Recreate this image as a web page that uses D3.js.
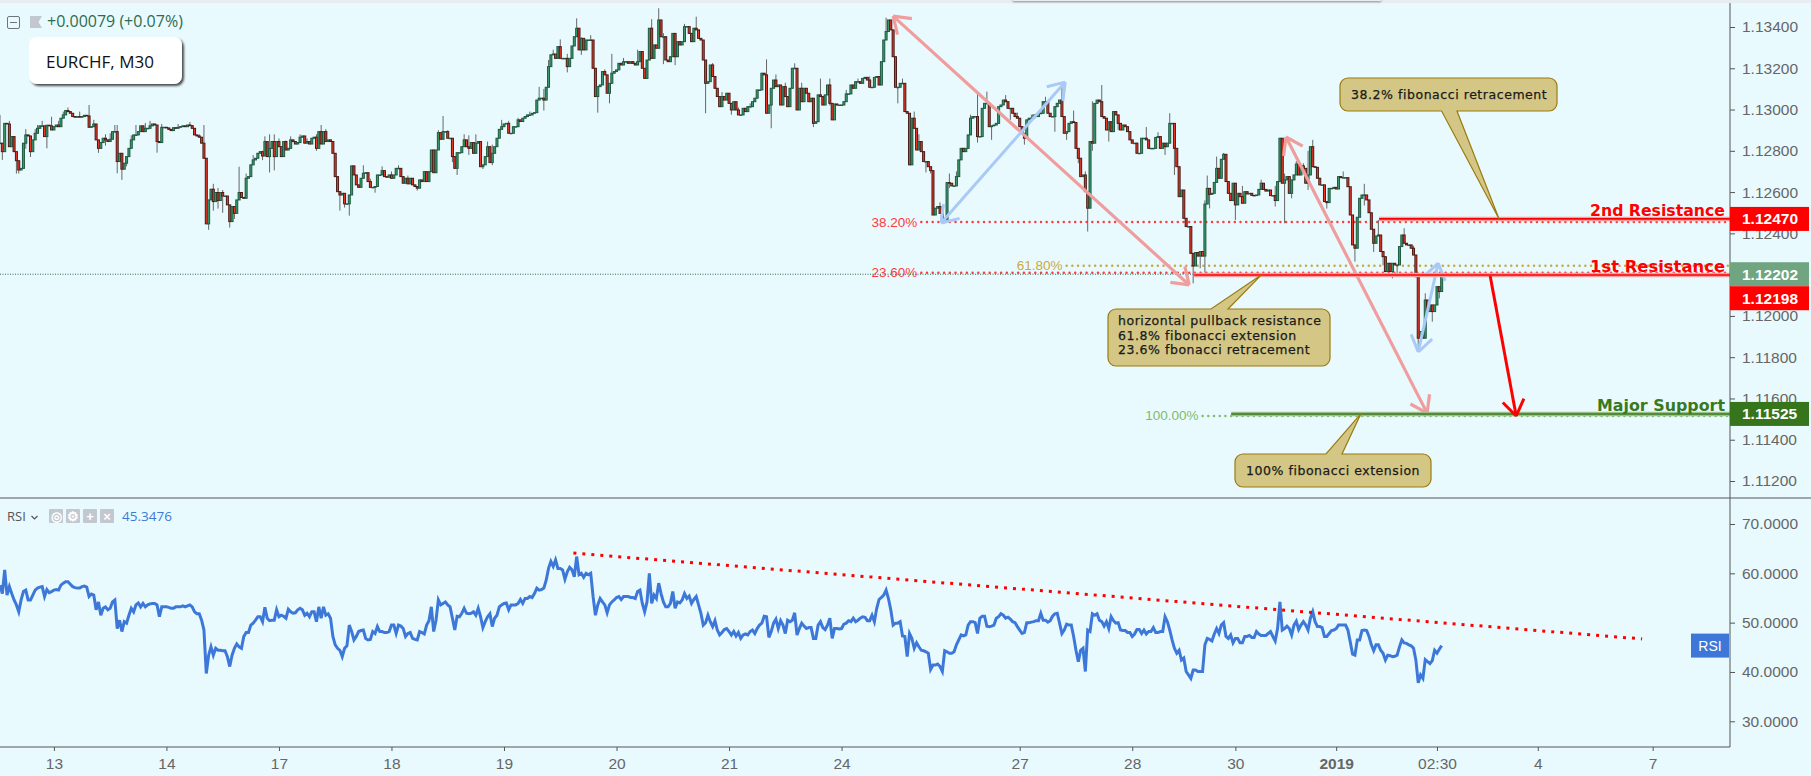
<!DOCTYPE html>
<html>
<head>
<meta charset="utf-8">
<script src="https://cdn.jsdelivr.net/npm/d3@7"></script>
<style>
  html, body { margin: 0; padding: 0; background: #e9faff; overflow: hidden; }
  svg { display: block; }
  text { font-family: "Liberation Sans", Arial, sans-serif; }
  .axis text { font-size: 15.5px; fill: #666; }
  .axis path, .axis line { stroke: #555; }
  .note text { font-family: "DejaVu Sans", sans-serif; font-size: 12.5px; letter-spacing: 0.55px; fill: #1a1a1a; stroke: #1a1a1a; stroke-width: 0.25px; }
</style>
</head>
<body>
<svg id="chart" width="1811" height="776"></svg>
<script>
// prices below are in points above 1.10000, so 2470 means 1.12470
const closePts = [
  2837,2796,2933,2930,2820,2869,2796,2752,2707,2715,
  2837,2877,2872,2796,2853,2885,2909,2921,2921,2869,
  2924,2921,2901,2917,2925,2917,2958,2974,2995,2990,
  2982,2966,2963,2966,2963,2966,2972,2969,2914,2917,
  2930,2853,2812,2840,2861,2853,2845,2856,2893,2893,
  2748,2788,2711,2740,2772,2812,2853,2877,2877,2893,
  2921,2893,2909,2909,2921,2930,2925,2845,2840,2914,
  2914,2911,2904,2898,2912,2909,2914,2917,2921,2917,
  2925,2922,2909,2877,2872,2866,2837,2764,2446,2562,
  2614,2554,2598,2559,2598,2581,2581,2538,2457,2530,
  2497,2562,2598,2574,2570,2667,2675,2732,2756,2764,
  2788,2796,2775,2845,2772,2812,2845,2772,2845,2820,
  2772,2845,2804,2812,2853,2845,2833,2840,2866,2872,
  2837,2845,2833,2861,2866,2812,2893,2833,2893,2845,
  2853,2845,2788,2675,2602,2586,2594,2543,2543,2586,
  2727,2683,2635,2623,2667,2691,2694,2651,2623,2623,
  2627,2683,2683,2704,2675,2672,2683,2667,2683,2715,
  2715,2675,2643,2667,2640,2667,2635,2627,2619,2659,
  2651,2699,2651,2699,2804,2694,2804,2888,2856,2893,
  2893,2861,2861,2772,2715,2791,2791,2820,2853,2820,
  2812,2840,2788,2837,2845,2723,2732,2772,2820,2743,
  2788,2820,2861,2904,2917,2930,2933,2885,2885,2917,
  2917,2950,2942,2958,2966,2974,2974,2982,2985,3046,
  3055,3055,3046,3108,3208,3265,3269,3248,3305,3248,
  3248,3248,3208,3248,3308,3353,3394,3289,3345,3289,
  3337,3337,3337,3200,3063,3111,
  3119,3184,3168,3079,3127,3176,3184,3192,3224,3216,
  3232,3232,3224,3232,3224,3216,3232,3281,3200,3151,
  3240,3394,3248,3313,3297,3434,3353,3353,3240,3232,
  3256,3369,3256,3329,3313,3329,3402,3402,3369,3329,
  3394,3386,3345,3337,3240,3127,3135,3216,3160,3103,
  3063,3014,3063,3046,3079,3030,2998,3038,2998,2974,
  2974,3006,2990,3014,3014,3038,3055,3095,3095,3176,
  3168,2982,3022,3103,3143,3111,3119,3022,3111,3063,
  3014,3103,3200,3200,2998,3103,3038,3103,3079,3038,
  3055,2933,2941,3071,3063,3022,3071,3119,3030,2950,
  3027,3022,3022,3022,3038,3076,3076,3119,3103,3135,
  3135,3127,3151,3156,3143,3108,3108,3156,3160,3119,
  3232,3337,3378,3434,3386,3256,3108,3108,3127,3127,
  2990,2982,2732,2958,2909,2804,2845,2796,2748,2748,
  2723,2704,2489,2522,2530,2497,2457,2457,2646,2643,
  2630,2630,2675,2756,2812,2796,2812,2877,2958,2966,
  2966,2869,2869,3006,3030,3030,2917,2921,2925,2933,
  3014,3022,3046,3038,3006,3006,2982,2966,2958,2917,
  2885,2861,2950,2958,2958,2974,2966,2982,2982,3038,
  3038,2982,2966,2966,3014,3030,3046,2966,2885,2893,
  2933,2941,2937,2812,2764,2675,2683,2602,2522,2845,
  2837,3030,3046,3038,2966,2958,2901,2941,2893,2990,
  2974,2933,2901,2925,2917,2893,2853,2837,2837,2788,
  2788,2861,2861,2853,2812,2812,2812,2865,2869,2812,
  2837,2820,2837,2933,2933,2812,2723,
  2578,2610,2473,2433,2433,2303,2242,2307,2290,2312,
  2290,2542,2618,2589,2594,2647,2715,2667,2759,2783,
  2651,2594,2559,2643,2538,2594,2578,2546,2602,2591,
  2594,2584,2583,2586,2613,2643,2613,2605,2610,2583,
  2583,2559,2651,2861,2643,2659,2675,2594,2659,2683,
  2736,2683,2727,2715,2643,2683,2820,2723,2720,2667,
  2635,2635,2554,2549,2618,2618,2623,2615,2675,2670,
  2670,2670,2626,2489,2344,2328,2478,2570,2586,2586,
  2562,2500,2420,2352,2387,2392,2312,2287,2215,2255,
  2215,2255,2247,2247,2336,2392,2352,2344,2344,2328,
  2295,2190,1892,1924,1892,2077,2021,2053,2021,2053,
  2142,2118,2202
];

// [bar, high, low] for the bars whose wick is visible, 0 means no wick on that side
const wicks = [
  [0,2974,0],[1,0,2756],[4,2945,0],[7,0,2690],[8,0,2690],[11,2905,2810],[13,0,2770],[15,2905,0],[16,2925,0],[18,2945,0],
  [20,0,2812],[22,2965,0],[25,2945,0],[27,2990,0],[29,3010,0],[34,2990,0],[38,3022,0],[40,2950,0],[42,0,2790],[45,2880,2825],
  [47,2885,0],[49,2925,0],[50,2925,2691],[52,0,2659],[54,0,2725],[56,2875,0],[58,2925,0],[62,2935,0],[64,2945,0],[67,0,2791],
  [69,2930,0],[76,2930,0],[81,2940,0],[85,2880,0],[87,2925,0],[89,0,2417],[91,2640,2510],[93,2620,2520],[95,2610,2500],[98,0,2428],
  [100,0,2470],[102,2723,0],[105,2690,0],[108,2780,0],[112,2800,2755],[113,2870,0],[115,2880,2695],[117,2880,2705],[119,2860,0],[122,2850,0],
  [124,2870,0],[128,2880,0],[131,2860,0],[135,2880,2800],[137,2925,0],[139,2905,0],[145,0,2510],[147,0,2525],[149,0,2486],[151,2725,0],
  [155,2730,0],[158,2665,0],[160,0,2597],[163,2725,0],[167,2700,0],[170,2730,0],[174,2680,0],[178,0,2607],[182,2690,0],[185,2730,0],
  [187,2900,0],[189,2969,0],[191,2900,0],[193,0,2745],[195,0,2683],[198,2880,0],[200,2875,2780],[203,2880,2785],[206,0,2712],[208,2845,0],
  [210,2830,2730],[214,2950,0],[217,2945,0],[221,2960,0],[226,2990,0],[230,3110,0],[232,3100,2995],[234,3240,0],[236,3290,0],[239,3340,0],
  [242,3270,3180],[246,3442,0],[248,3350,3265],[252,3360,0],[255,3100,2985],[258,3195,0],[260,0,3030],[261,3270,0],[266,3250,0],[272,3290,0],
  [278,3438,0],[281,3491,0],[283,3370,3220],[288,3290,3215],[292,3415,0],[297,3450,0],[301,0,2982],[304,3225,0],[308,3085,0],[312,0,2975],
  [315,3010,0],[320,3030,0],[327,3243,0],[329,0,2909],[331,3170,0],[335,3130,0],[339,3224,0],[342,3130,0],[345,3060,0],[347,0,2915],
  [350,3150,0],[354,3150,3020],[356,0,3000],[361,3095,0],[366,3150,0],[371,3160,0],[378,3445,0],[383,0,3030],[385,3150,0],[390,2990,0],
  [392,2880,0],[395,0,2695],[397,0,2690],[401,2550,0],[405,2690,2620],[408,2700,0],[414,2975,0],[417,3074,2840],[421,3087,0],[423,0,2853],
  [429,3070,0],[431,0,2950],[434,2985,0],[437,0,2830],[440,2975,0],[444,2995,0],[446,3062,0],[450,0,2892],[453,3119,0],[455,0,2853],
  [458,2995,0],[460,0,2740],[463,2700,0],[464,0,2409],[466,3040,2800],[470,3119,0],[473,0,2845],[477,0,2900],[481,2915,0],[485,2840,0],
  [489,2915,0],[494,2890,0],[497,0,2780],[499,2982,0],[501,0,2683],[505,2610,0],[509,0,2158],[512,0,2231],[514,2560,2210],[515,2680,0],
  [516,0,2521],[519,2772,0],[522,2790,0],[527,0,2465],[530,2630,0],[538,2660,0],[544,2630,2530],[546,2861,0],[548,2690,2449],[551,0,2570],
  [553,2750,0],[556,2740,0],[558,2800,2610],[560,2853,0],[563,2670,0],[566,0,2520],[573,2700,0],[578,0,2263],[582,2640,2535],[586,0,2310],
  [588,2465,0],[590,0,2245],[594,0,2182],[596,0,2190],[599,2425,0],[603,2340,0],[605,0,1827],[608,2110,0],[611,0,1972],[614,0,2085]
];

const rsiValues = [
  57.6,55.9,60.7,55.6,57.3,55.9,54.6,53.6,52.2,54.6,
  56.3,56.6,54.6,54.6,55.6,56.6,57.0,57.2,57.3,55.3,
  56.7,56.1,56.3,56.6,56.7,56.6,57.6,58.0,58.3,58.3,
  57.8,57.3,57.1,57.0,57.0,57.3,57.4,57.2,55.3,55.8,
  55.6,52.6,54.2,51.5,52.9,53.2,52.6,52.9,54.2,54.6,
  48.8,50.5,48.2,50.2,49.9,51.5,52.9,52.2,53.6,54.0,
  53.2,53.9,53.2,53.6,53.8,53.9,53.9,53.6,51.2,53.2,
  53.2,53.2,53.1,52.9,52.9,53.2,53.2,53.2,53.4,53.2,
  53.4,53.6,53.2,52.2,51.8,51.8,50.5,48.5,39.7,43.4,
  45.1,43.4,44.8,44.4,44.4,44.3,44.3,43.1,41.1,43.4,
  44.8,45.7,45.1,44.8,47.2,48.0,48.0,49.5,49.9,50.5,
  51.2,51.2,50.2,53.1,50.9,50.4,50.5,50.5,52.6,51.2,
  51.5,51.3,50.9,52.7,52.2,51.9,52.0,52.6,52.9,52.6,
  51.5,51.9,51.2,52.2,52.2,50.2,53.2,50.9,53.2,51.5,
  51.8,50.9,47.2,45.5,44.8,44.4,43.1,44.8,45.3,49.5,
  48.2,46.5,47.2,48.2,48.4,48.5,46.8,46.5,46.6,48.2,
  47.8,49.2,48.2,48.2,48.0,48.0,48.2,49.5,49.5,47.8,
  49.5,49.3,48.8,47.2,47.8,48.0,46.8,46.6,46.5,48.2,
  48.0,47.7,49.5,50.4,53.2,48.2,50.5,54.6,53.6,53.9,
  54.2,53.6,53.2,50.9,48.5,51.3,51.2,51.9,52.9,51.9,
  51.8,51.9,52.2,51.5,52.9,51.2,49.0,50.2,51.2,51.8,
  49.2,50.9,51.5,53.2,53.6,53.9,54.0,52.6,53.6,53.6,
  53.6,53.9,54.7,53.9,54.9,54.9,55.3,55.1,55.9,57.0,
  56.6,56.7,57.0,58.6,61.0,62.4,61.4,62.7,61.0,61.0,
  60.7,58.8,60.3,61.2,60.7,59.3,63.4,59.7,60.0,59.2,
  60.0,59.7,60.0,55.3,51.5,53.6,
  54.9,54.2,53.6,52.0,53.6,54.2,54.6,55.1,55.3,54.7,
  55.3,55.3,55.3,55.1,55.1,54.9,56.3,56.6,53.9,52.2,
  54.2,60.0,53.9,55.6,54.9,58.0,55.9,54.2,53.2,53.2,
  53.9,56.3,52.9,54.2,54.0,54.6,55.9,54.9,55.4,53.9,
  54.7,55.3,53.6,51.9,49.5,50.0,51.5,50.2,49.2,50.4,
  48.5,47.5,48.0,48.6,48.8,48.2,47.5,48.2,47.3,48.0,
  46.8,47.5,47.7,47.5,48.2,48.5,47.8,48.8,49.5,49.9,
  51.3,51.2,47.0,48.2,49.9,50.7,48.8,50.4,49.5,47.8,
  50.5,50.2,50.5,52.0,47.5,48.8,49.9,49.3,48.8,49.0,
  49.0,46.8,46.8,49.5,50.2,49.0,48.6,49.5,50.9,46.8,
  48.8,48.8,48.7,48.8,49.7,49.9,50.4,50.2,50.9,50.2,
  50.5,50.9,51.2,51.1,50.4,50.4,51.5,50.2,52.9,54.7,
  55.1,55.6,56.6,54.9,52.6,49.5,49.9,49.9,50.2,47.3,
  47.2,43.1,47.8,46.8,44.8,45.9,45.1,44.4,44.3,44.1,
  43.8,40.5,41.4,41.4,41.6,41.1,40.1,44.3,44.1,43.8,
  43.8,44.1,45.5,46.5,47.5,47.3,47.5,49.5,50.2,50.2,
  50.0,47.8,50.9,51.3,51.3,49.3,49.2,49.3,49.5,50.9,
  51.2,51.8,51.5,50.9,51.1,50.7,50.2,50.0,49.2,48.5,
  47.8,48.0,50.0,50.0,50.1,50.2,50.4,50.4,51.9,50.5,
  50.5,50.1,50.4,51.3,51.8,51.9,49.9,47.8,48.5,49.7,
  49.5,49.5,47.2,44.4,42.1,44.4,44.8,40.1,48.5,48.2,
  51.8,51.5,51.8,50.5,50.2,49.3,50.2,48.8,51.2,50.4,
  49.9,50.0,48.5,48.4,48.4,48.0,48.0,47.2,47.7,48.6,
  48.6,47.8,48.5,47.7,48.2,48.2,49.0,48.0,48.0,48.2,
  48.2,51.2,50.2,48.5,46.5,44.8,43.8,44.4,42.4,42.8,
  40.1,39.4,38.7,40.4,40.4,40.1,
  40.1,40.1,45.5,46.8,46.6,46.3,47.7,48.8,47.8,49.5,
  50.0,47.2,46.8,47.5,45.9,46.8,46.8,45.9,45.9,47.2,
  47.2,47.4,47.0,47.0,48.2,47.7,47.4,47.4,47.4,47.8,
  48.2,47.2,46.3,48.8,54.2,48.5,48.8,49.3,48.8,47.5,
  49.5,50.3,48.6,49.5,50.2,49.5,48.5,50.9,52.2,50.2,
  49.2,49.2,49.0,47.2,47.2,47.8,48.4,48.5,48.8,49.5,
  49.5,49.5,49.5,48.5,46.1,43.6,43.4,46.5,46.5,48.4,
  48.5,48.4,47.2,45.5,44.3,45.5,45.5,44.4,43.8,42.4,
  43.4,43.3,43.1,43.2,43.4,45.1,46.5,45.9,45.8,45.5,
  45.3,44.8,42.4,37.8,39.4,38.7,42.5,42.1,41.7,42.3,
  44.4,43.8,44.6,45.35
];

const priceTicks = [1.134, 1.132, 1.13, 1.128, 1.126, 1.124, 1.12, 1.118, 1.116, 1.114, 1.112];
const rsiTicks = [70, 60, 50, 40, 30];
const timeTickBars = [23, 71, 119, 167, 215, 263, 311, 359, 435, 483, 527, 570, 613, 656, 705];
const timeTickLabels = ["13", "14", "17", "18", "19", "20", "21", "24", "27", "28", "30", "2019", "02:30", "4", "7"];

// [label, start bar, price in points]
const fibLevels = [
  ["38.20%", 393, 2455, "#ff3b3b"],
  ["23.60%", 393, 2209, "#ff3b3b"],
  ["61.80%", 455, 2243, "#c9a93f"],
  ["100.00%", 513, 1515, "#7fbb6b"]
];
const levels = [
  ["2nd Resistance", 588.3, 2470, "#ff0000", "#f4a0a0"],
  ["1st Resistance", 509.4, 2198, "#ff0000", "#f4a0a0"],
  ["Major Support", 525.2, 1525, "#3a7a1e", "#9cc08c"]
];
const priceTags = [
  ["1.12470", 2470, "#ff0000", 0],
  ["1.12202", 2202, "#6fa581", 0],
  ["1.12198", 2202, "#ff0000", 24],
  ["1.11525", 1525, "#37751d", 0]
];
// start and end of each two headed arrow: bar, points
const pinkArrows = [[381, 3453, 507.3, 2150], [548.6, 2867, 608.8, 1529]];
const blueArrows = [[401.5, 2450, 454.4, 3133], [605, 1825, 613.5, 2256]];
const targetArrow = [635.7, 2193, 646.8, 1515];
const rsiTrend = [244.6, 64.1, 700.5, 46.7];

const W = 1811;
const H = 776;
const axisX = 1730;
const axisY = 747;
const paneY = 498;
const barCount = 738;

const svg = d3.select("#chart");
const x = d3.scaleLinear().domain([0, barCount]).range([0, axisX]);
const y = d3.scaleLinear().domain([1.134, 1.112]).range([27, 481]);
const yRsi = d3.scaleLinear().domain([70, 30]).range([524, 721.3]);
const pt = (v) => 1.1 + v / 1e5;
const py = (v) => y(pt(v));

svg.append("rect").attr("width", W).attr("height", H).attr("fill", "#e9faff");
svg.append("rect").attr("width", W).attr("height", 3).attr("fill", "#e8edf1");

// panel peeking in at the top edge
const defs = svg.append("defs");
const blur = defs.append("filter").attr("id", "shadow").attr("x", "-20%").attr("y", "-50%").attr("width", "140%").attr("height", "220%");
blur.append("feDropShadow").attr("dx", 2).attr("dy", 2).attr("stdDeviation", 1.2).attr("flood-color", "#222").attr("flood-opacity", 0.8);
const soft = defs.append("filter").attr("id", "soft").attr("x", "-5%").attr("y", "-100%").attr("width", "110%").attr("height", "400%");
soft.append("feDropShadow").attr("dx", 0).attr("dy", 1).attr("stdDeviation", 1).attr("flood-color", "#666").attr("flood-opacity", 0.7);
svg.append("rect").attr("x", 1013).attr("y", -4).attr("width", 368).attr("height", 5).attr("fill", "#e8edf1").attr("filter", "url(#soft)");

// fib dotted levels
const fibG = svg.append("g");
fibLevels.forEach(([label, start, v, color]) => {
  fibG.append("line")
    .attr("x1", x(start)).attr("x2", axisX)
    .attr("y1", py(v)).attr("y2", py(v))
    .attr("stroke", color).attr("stroke-width", 2.4)
    .attr("stroke-linecap", "round").attr("stroke-dasharray", "0.1 5.6");
  fibG.append("text")
    .attr("x", x(start) - 4).attr("y", py(v) + 4.5)
    .attr("text-anchor", "end")
    .attr("font-size", 13.5).attr("fill", color)
    .text(label);
});

// last price line
svg.append("line")
  .attr("x1", 0).attr("x2", axisX)
  .attr("y1", py(2202)).attr("y2", py(2202))
  .attr("stroke", "#2f6b52").attr("stroke-width", 1).attr("stroke-dasharray", "1 1.5");

// candles, each opens at the previous close
const candles = closePts.map((c, i) => ({ i, open: i ? closePts[i - 1] : c, close: c, high: 0, low: 1e6 }));
wicks.forEach(([i, hi, lo]) => {
  if (hi) candles[i].high = hi;
  if (lo) candles[i].low = lo;
});

svg.append("g").selectAll("line").data(candles).join("line")
  .attr("x1", (d) => x(d.i)).attr("x2", (d) => x(d.i))
  .attr("y1", (d) => py(Math.max(d.high, d.open, d.close)))
  .attr("y2", (d) => py(Math.min(d.low, d.open, d.close)))
  .attr("stroke", "#666").attr("stroke-width", 1);

svg.append("g").selectAll("rect").data(candles).join("rect")
  .attr("x", (d) => x(d.i) - 1)
  .attr("y", (d) => py(Math.max(d.open, d.close)))
  .attr("width", 2)
  .attr("height", (d) => Math.max(0.5, Math.abs(py(d.open) - py(d.close))))
  .attr("fill", (d) => (d.close >= d.open ? "#3f9a70" : "#ee3a2a"))
  .attr("stroke", (d) => (d.close >= d.open ? "#1d5a40" : "#4a1a14"))
  .attr("stroke-width", 1);

// arrows drawn with open heads
function arrowHead(g, x0, y0, x1, y1, color, size, w) {
  const a = Math.atan2(y1 - y0, x1 - x0);
  [0.6, -0.6].forEach((da) => {
    g.append("line")
      .attr("x1", x1).attr("y1", y1)
      .attr("x2", x1 - size * Math.cos(a + da))
      .attr("y2", y1 - size * Math.sin(a + da))
      .attr("stroke", color).attr("stroke-width", w);
  });
}

function arrow(g, [b0, p0, b1, p1], color, w, both) {
  const x0 = x(b0), y0 = py(p0), x1 = x(b1), y1 = py(p1);
  g.append("line")
    .attr("x1", x0).attr("y1", y0).attr("x2", x1).attr("y2", y1)
    .attr("stroke", color).attr("stroke-width", w);
  arrowHead(g, x0, y0, x1, y1, color, 19, w);
  if (both) arrowHead(g, x1, y1, x0, y0, color, 19, w);
}

const arrowG = svg.append("g");
pinkArrows.forEach((a) => arrow(arrowG, a, "#f09d9d", 3.2, true));
blueArrows.forEach((a) => arrow(arrowG, a, "#a9c9f7", 3, true));

// support and resistance lines
levels.forEach(([label, start, v, color, halo]) => {
  svg.append("line").attr("x1", x(start)).attr("x2", axisX)
    .attr("y1", py(v)).attr("y2", py(v))
    .attr("stroke", halo).attr("stroke-width", 4.5);
  svg.append("line").attr("x1", x(start)).attr("x2", axisX)
    .attr("y1", py(v)).attr("y2", py(v))
    .attr("stroke", color).attr("stroke-width", 1.6);
  svg.append("text")
    .attr("x", axisX - 5).attr("y", py(v) - 3)
    .attr("text-anchor", "end")
    .attr("style", 'font-family:"DejaVu Sans",sans-serif')
    .attr("font-size", 16).attr("font-weight", 700)
    .attr("textLength", label === "Major Support" ? 128 : 135)
    .attr("lengthAdjust", "spacingAndGlyphs")
    .attr("fill", color)
    .text(label);
});

arrow(svg.append("g"), targetArrow, "#ff0000", 3, false);

// callouts, the pointer leaves from whichever edge faces the tip
function callout(box, baseX, tip, lines, textX, firstBaseline, lineGap) {
  const [l, t, r, b] = box;
  const g = svg.append("g").attr("class", "note");
  const rad = 8;
  const up = tip[1] < t;
  const path = d3.path();
  path.moveTo(l + rad, t);
  if (up) {
    path.lineTo(baseX[0], t);
    path.lineTo(tip[0], tip[1]);
    path.lineTo(baseX[1], t);
  }
  path.lineTo(r - rad, t);
  path.arcTo(r, t, r, t + rad, rad);
  path.lineTo(r, b - rad);
  path.arcTo(r, b, r - rad, b, rad);
  if (!up) {
    path.lineTo(baseX[1], b);
    path.lineTo(tip[0], tip[1]);
    path.lineTo(baseX[0], b);
  }
  path.lineTo(l + rad, b);
  path.arcTo(l, b, l, b - rad, rad);
  path.lineTo(l, t + rad);
  path.arcTo(l, t, l + rad, t, rad);
  path.closePath();
  g.append("path").attr("d", path.toString())
    .attr("fill", "#d4c785").attr("stroke", "#9a7b10").attr("stroke-width", 1.2);
  lines.forEach((line, k) => {
    g.append("text").attr("x", textX).attr("y", firstBaseline + k * lineGap).text(line);
  });
}

callout([1340, 78, 1557, 111], [1441.6, 1457], [x(639.5), py(2470)], ["38.2% fibonacci retracement"], 1351, 99, 0);
callout([1108, 309, 1330, 366], [1211, 1228], [x(538), py(2198)],
  ["horizontal pullback resistance", "61.8% fibonacci extension", "23.6% fbonacci retracement"], 1118, 325, 14.5);
callout([1235, 454, 1431, 487], [1326, 1342], [x(580.5), py(1525)], ["100% fibonacci extension"], 1246, 475, 0);

// RSI pane
svg.append("path")
  .datum(rsiValues)
  .attr("fill", "none")
  .attr("stroke", "#3d78d8")
  .attr("stroke-width", 3)
  .attr("stroke-linejoin", "miter")
  .attr("d", d3.line().x((d, i) => x(i)).y((d) => yRsi(d)));

svg.append("line")
  .attr("x1", x(rsiTrend[0])).attr("y1", yRsi(rsiTrend[1]))
  .attr("x2", x(rsiTrend[2])).attr("y2", yRsi(rsiTrend[3]))
  .attr("stroke", "#ff0000").attr("stroke-width", 3).attr("stroke-dasharray", "3 6");

// pane frame and axes
svg.append("line").attr("x1", 0).attr("x2", W).attr("y1", paneY).attr("y2", paneY).attr("stroke", "#555").attr("stroke-width", 1);

const priceAxis = d3.axisRight(y).tickValues(priceTicks).tickFormat(d3.format(".5f")).tickSize(5).tickPadding(7);
svg.append("g").attr("class", "axis").attr("transform", `translate(${axisX},0)`).call(priceAxis)
  .call((g) => g.select(".domain").remove());

const rsiAxis = d3.axisRight(yRsi).tickValues(rsiTicks).tickFormat(d3.format(".4f")).tickSize(5).tickPadding(7);
svg.append("g").attr("class", "axis").attr("transform", `translate(${axisX},0)`).call(rsiAxis)
  .call((g) => g.select(".domain").remove());

svg.append("line").attr("x1", axisX).attr("x2", axisX).attr("y1", 3).attr("y2", axisY).attr("stroke", "#555").attr("stroke-width", 1);

const timeAxis = d3.axisBottom(x).tickValues(timeTickBars)
  .tickFormat((d, i) => timeTickLabels[i]).tickSize(4).tickPadding(7);
svg.append("g").attr("class", "axis").attr("transform", `translate(0,${axisY})`).call(timeAxis)
  .call((g) => g.select(".domain").remove())
  .call((g) => g.selectAll("text").attr("font-weight", (d, i) => (timeTickLabels[i] === "2019" ? 700 : 400)));
svg.append("line").attr("x1", 0).attr("x2", axisX).attr("y1", axisY).attr("y2", axisY).attr("stroke", "#555").attr("stroke-width", 1);

// price tags on the axis
priceTags.forEach(([label, v, color, nudge]) => {
  const cy = py(v) + nudge;
  svg.append("rect").attr("x", axisX).attr("y", cy - 12).attr("width", 79).attr("height", 24).attr("fill", color);
  svg.append("text").attr("x", axisX + 12).attr("y", cy + 5.5)
    .attr("font-size", 15.5).attr("font-weight", 700).attr("fill", "#fff").text(label);
});

svg.append("rect").attr("x", 1691).attr("y", yRsi(45.3476) - 12).attr("width", 38).attr("height", 24).attr("fill", "#3d78d8");
svg.append("text").attr("x", 1710).attr("y", yRsi(45.3476) + 5).attr("text-anchor", "middle")
  .attr("font-size", 14).attr("fill", "#fff").text("RSI");

// top left header
svg.append("rect").attr("x", 7.5).attr("y", 16.5).attr("width", 12).attr("height", 12).attr("rx", 1.5)
  .attr("fill", "none").attr("stroke", "#6c7480");
svg.append("line").attr("x1", 10).attr("x2", 17).attr("y1", 22.5).attr("y2", 22.5).attr("stroke", "#6c7480");
svg.append("path").attr("d", "M30,16H42L38.5,22L42,28H30Z").attr("fill", "#c3c8d0");
svg.append("text").attr("x", 47).attr("y", 27)
  .attr("style", 'font-family:"Open Sans",sans-serif').attr("font-size", 16).attr("fill", "#2e6b4f")
  .text("+0.00079 (+0.07%)");
svg.append("rect").attr("x", 29).attr("y", 37).attr("width", 153).attr("height", 47).attr("rx", 8)
  .attr("fill", "#fff").attr("filter", "url(#shadow)");
svg.append("text").attr("x", 46).attr("y", 68)
  .attr("style", 'font-family:"Open Sans",sans-serif').attr("font-size", 17).attr("fill", "#111")
  .text("EURCHF, M30");

// RSI legend
svg.append("text").attr("x", 7).attr("y", 521)
  .attr("style", 'font-family:"Open Sans",sans-serif').attr("font-size", 13).attr("fill", "#555").text("RSI");
svg.append("path").attr("d", "M31.5,516L34.5,519L37.5,516").attr("fill", "none").attr("stroke", "#555").attr("stroke-width", 1.2);
const iconXs = [49, 66, 83, 100];
const iconGlyphs = ["\u25CE", "\u2699", "+", "\u00D7"];
iconXs.forEach((ix, k) => {
  svg.append("rect").attr("x", ix).attr("y", 509).attr("width", 14).attr("height", 14).attr("rx", 1).attr("fill", "#c3c8d0");
  svg.append("text").attr("x", ix + 7).attr("y", 520.5).attr("text-anchor", "middle")
    .attr("font-size", 13).attr("font-weight", 700).attr("fill", "#fff").text(iconGlyphs[k]);
});
svg.append("text").attr("x", 122).attr("y", 521)
  .attr("style", 'font-family:"Open Sans",sans-serif').attr("font-size", 13.5).attr("fill", "#3d78d8").text("45.3476");
</script>
</body>
</html>
